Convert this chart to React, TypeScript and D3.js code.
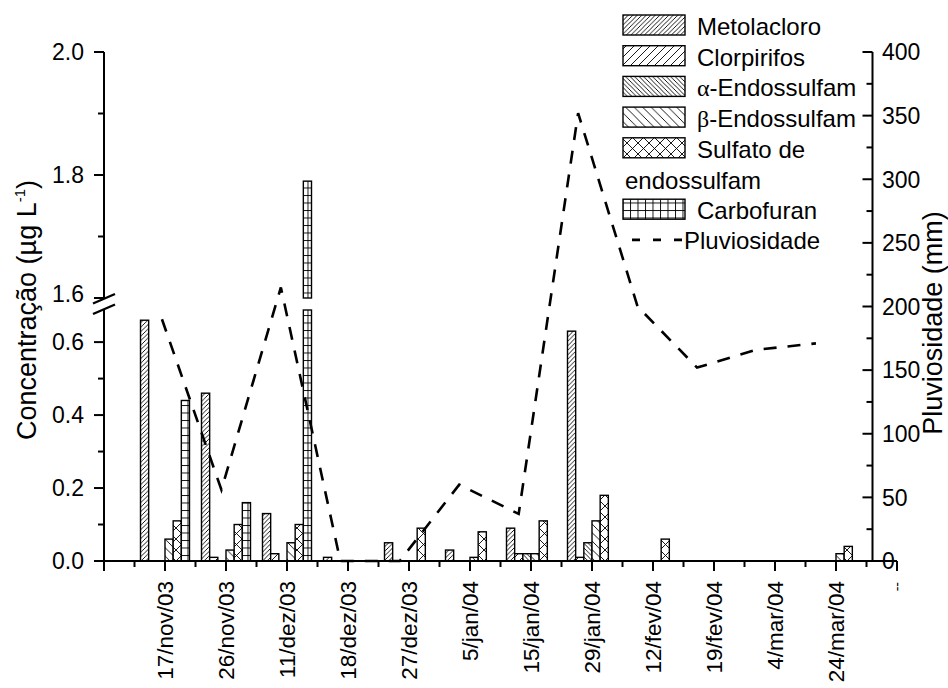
import React from 'react';
import * as d3 from 'd3';

const dates = ["17/nov/03","26/nov/03","11/dez/03","18/dez/03","27/dez/03","5/jan/04","15/jan/04","29/jan/04","12/fev/04","19/fev/04","4/mar/04","24/mar/04"];
const metolacloro = [0.66, 0.46, 0.13, 0.01, 0.05, 0.03, 0.09, 0.63, 0, 0, 0, 0];
const clorpirifos = [0, 0.01, 0.02, 0, 0, 0, 0.02, 0.01, 0, 0, 0, 0];
const alfaEndossulfam = [0, 0, 0, 0, 0, 0, 0.02, 0.05, 0, 0, 0, 0];
const betaEndossulfam = [0.06, 0.03, 0.05, 0, 0, 0.01, 0.02, 0.11, 0, 0, 0, 0.02];
const sulfatoEndossulfam = [0.11, 0.10, 0.10, 0, 0.09, 0.08, 0.11, 0.18, 0.06, 0, 0, 0.04];
const carbofuran = [0.44, 0.16, 1.79, 0, 0, 0, 0, 0, 0, 0, 0, 0];
const pluviosidade = [190, 56, 215, 0, 0, 60, 37, 352, 200, 152, 166, 171];

const seriesKeys = ["meto", "clor", "alfa", "beta", "sulf", "carb"];
const seriesValues = [metolacloro, clorpirifos, alfaEndossulfam, betaEndossulfam, sulfatoEndossulfam, carbofuran];

const lowerTicks = [0, 0.2, 0.4, 0.6];
const lowerMinor = [0.1, 0.3, 0.5];
const upperTicks = [1.6, 1.8, 2.0];
const upperMinor = [1.7, 1.9];
const rightTicks = [0, 50, 100, 150, 200, 250, 300, 350, 400];
const rightMinor = [25, 75, 125, 175, 225, 275, 325, 375];

const FONT = "'Liberation Sans', Arial, Helvetica, sans-serif";

function hatch(s: number, dir: 'f' | 'b' | 'x' | 'g') {
  const f = `M-1,1 l2,-2 M0,${s} l${s},${-s} M${s - 1},${s + 1} l2,-2`;
  const b = `M-1,${s - 1} l2,2 M0,0 l${s},${s} M${s - 1},-1 l2,2`;
  if (dir === 'f') return f;
  if (dir === 'b') return b;
  if (dir === 'x') return f + ' ' + b;
  return `M0,0.5 H${s} M0.5,0 V${s}`;
}

const patternDefs: { id: string; s: number; dir: 'f' | 'b' | 'x' | 'g' }[] = [
  { id: 'meto', s: 4.5, dir: 'f' },
  { id: 'clor', s: 8, dir: 'f' },
  { id: 'alfa', s: 4.5, dir: 'b' },
  { id: 'beta', s: 8.5, dir: 'b' },
  { id: 'sulf', s: 11, dir: 'x' },
  { id: 'carb', s: 7.5, dir: 'g' },
];

export default function App() {
  const yBase = 561, yTop = 52;
  const xCat = d3.scaleLinear().domain([0, 13]).range([104, 897]);
  const xLine = d3.scaleLinear().domain([0, 13]).range([102.5, 875.4]);
  const yLow = d3.scaleLinear().domain([0, 0.688]).range([561, 310]);
  const yUp = d3.scaleLinear().domain([1.6, 2.0]).range([298, 52]);
  const yRight = d3.scaleLinear().domain([0, 400]).range([561, 52]);
  const xBar = d3.scaleBand<string>().domain(seriesKeys).range([-24.5, 24.5]).padding(0);
  const lowMax = yLow.domain()[1];
  const xL = xCat(0), xR = xCat(13);
  const rAx = 872.5;

  const bars: JSX.Element[] = [];
  seriesValues.forEach((vals, si) => {
    const key = seriesKeys[si];
    vals.forEach((v, i) => {
      if (v <= 0) return;
      const x = xCat(i + 1) + (xBar(key) as number);
      const w = xBar.bandwidth();
      if (v <= lowMax) {
        bars.push(<rect key={`${key}-${i}`} x={x} y={yLow(v)} width={w} height={yBase - yLow(v)} fill={`url(#p-${key})`} stroke="#000" strokeWidth={1.4} />);
      } else {
        bars.push(<rect key={`${key}-${i}-lo`} x={x} y={yLow(lowMax)} width={w} height={yBase - yLow(lowMax)} fill={`url(#p-${key})`} stroke="#000" strokeWidth={1.4} />);
        bars.push(<rect key={`${key}-${i}-up`} x={x} y={yUp(v)} width={w} height={yUp(1.6) - yUp(v)} fill={`url(#p-${key})`} stroke="#000" strokeWidth={1.4} />);
      }
    });
  });

  const linePath = d3.line<number>()
    .x((_, i) => xLine(i + 1))
    .y((v) => yRight(v))(pluviosidade) as string;

  const legendItems = [
    { key: 'meto', label: 'Metolacloro', row: 0 },
    { key: 'clor', label: 'Clorpirifos', row: 1 },
    { key: 'alfa', label: 'α', rest: '-Endossulfam', row: 2 },
    { key: 'beta', label: 'β', rest: '-Endossulfam', row: 3 },
    { key: 'sulf', label: 'Sulfato de', row: 4 },
    { key: 'carb', label: 'Carbofuran', row: 6 },
  ];
  const legRow = (r: number) => 15 + r * 30.7;

  return (
    <svg width={948} height={688} style={{ position: 'absolute', left: 0, top: 0, background: '#fff' }} fontFamily={FONT}>
      <defs>
        {patternDefs.map((p) => (
          <pattern key={p.id} id={`p-${p.id}`} patternUnits="userSpaceOnUse" width={p.s} height={p.s}>
            <rect width={p.s} height={p.s} fill="#fff" />
            <path d={hatch(p.s, p.dir)} stroke="#000" strokeWidth={0.9} fill="none" />
          </pattern>
        ))}
      </defs>
      <rect width={948} height={688} fill="#fff" />

      {bars}

      {/* x axis */}
      <line x1={xL} x2={xR} y1={yBase} y2={yBase} stroke="#000" strokeWidth={2} />
      {d3.range(0, 14).map((i) => (
        <line key={`xt${i}`} x1={xCat(i)} x2={xCat(i)} y1={yBase} y2={yBase + 10} stroke="#000" strokeWidth={2} />
      ))}
      {d3.range(0, 13).map((i) => (
        <line key={`xm${i}`} x1={xCat(i + 0.5)} x2={xCat(i + 0.5)} y1={yBase} y2={yBase + 6} stroke="#000" strokeWidth={2} />
      ))}
      {dates.map((d, i) => (
        <text key={`xl${i}`} transform={`translate(${xCat(i + 1) + 8},581) rotate(-90)`} textAnchor="end" fontSize={22.5}>{d}</text>
      ))}
      <text transform={`translate(${xCat(13) + 5},582) rotate(-90)`} textAnchor="end" fontSize={14}>--</text>

      {/* left axis */}
      <line x1={xL} x2={xL} y1={yLow(0)} y2={yLow(lowMax)} stroke="#000" strokeWidth={2} />
      <line x1={xL} x2={xL} y1={yUp(1.6)} y2={yUp(2.0)} stroke="#000" strokeWidth={2} />
      {lowerTicks.map((t) => (
        <g key={`lt${t}`}>
          <line x1={xL - 10} x2={xL} y1={yLow(t)} y2={yLow(t)} stroke="#000" strokeWidth={2} />
          <text x={84} y={yLow(t)} dy="0.36em" textAnchor="end" fontSize={23}>{t.toFixed(1)}</text>
        </g>
      ))}
      {lowerMinor.map((t) => (
        <line key={`lm${t}`} x1={xL - 6} x2={xL} y1={yLow(t)} y2={yLow(t)} stroke="#000" strokeWidth={2} />
      ))}
      {upperTicks.map((t) => (
        <g key={`ut${t}`}>
          <line x1={xL - 10} x2={xL} y1={yUp(t)} y2={yUp(t)} stroke="#000" strokeWidth={2} />
          <text x={84} y={yUp(t) - (t === 1.6 ? 4 : 0)} dy="0.36em" textAnchor="end" fontSize={23}>{t.toFixed(1)}</text>
        </g>
      ))}
      {upperMinor.map((t) => (
        <line key={`um${t}`} x1={xL - 6} x2={xL} y1={yUp(t)} y2={yUp(t)} stroke="#000" strokeWidth={2} />
      ))}
      {/* break marks */}
      <rect x={xL - 3} y={yUp(1.6) + 1} width={6} height={yLow(lowMax) - yUp(1.6) - 2} fill="#fff" />
      <line x1={xL - 11} x2={xL + 11} y1={yUp(1.6) + 5.5} y2={yUp(1.6) - 4} stroke="#000" strokeWidth={2.4} />
      <line x1={xL - 11} x2={xL + 11} y1={yLow(lowMax) + 4} y2={yLow(lowMax) - 5.5} stroke="#000" strokeWidth={2.4} />
      <text transform="translate(36,310) rotate(-90)" textAnchor="middle" fontSize={27}>
        Concentração (µg L<tspan dy={-11} fontSize={15}>-1</tspan><tspan dy={11}>)</tspan>
      </text>

      {/* right axis */}
      <line x1={rAx} x2={rAx} y1={yRight(0)} y2={yRight(400)} stroke="#000" strokeWidth={2} />
      {rightTicks.map((t) => (
        <g key={`rt${t}`}>
          <line x1={rAx - 10} x2={rAx} y1={yRight(t)} y2={yRight(t)} stroke="#000" strokeWidth={2} />
          <text x={882} y={yRight(t)} dy="0.36em" textAnchor="start" fontSize={23}>{t}</text>
        </g>
      ))}
      {rightMinor.map((t) => (
        <line key={`rm${t}`} x1={rAx - 6} x2={rAx} y1={yRight(t)} y2={yRight(t)} stroke="#000" strokeWidth={2} />
      ))}
      <text transform="translate(942,323) rotate(-90)" textAnchor="middle" fontSize={27}>Pluviosidade (mm)</text>

      {/* rainfall line */}
      <path d={linePath} fill="none" stroke="#000" strokeWidth={2.6} strokeDasharray="13,11" />

      {/* legend */}
      {legendItems.map((it) => (
        <g key={`lg${it.key}`}>
          <rect x={623} y={legRow(it.row)} width={62} height={20} fill={`url(#p-${it.key})`} stroke="#000" strokeWidth={1.4} />
          <text x={697} y={legRow(it.row) + 20} fontSize={24}>
            {it.rest ? <><tspan fontFamily="'Liberation Serif', 'DejaVu Serif', serif">{it.label}</tspan>{it.rest}</> : it.label}
          </text>
        </g>
      ))}
      <text x={625} y={legRow(5) + 20} fontSize={24}>endossulfam</text>
      <line x1={632} x2={682} y1={legRow(7) + 10} y2={legRow(7) + 10} stroke="#000" strokeWidth={2.6} strokeDasharray="8,13" />
      <text x={684} y={legRow(7) + 19} fontSize={24}>Pluviosidade</text>
    </svg>
  );
}
